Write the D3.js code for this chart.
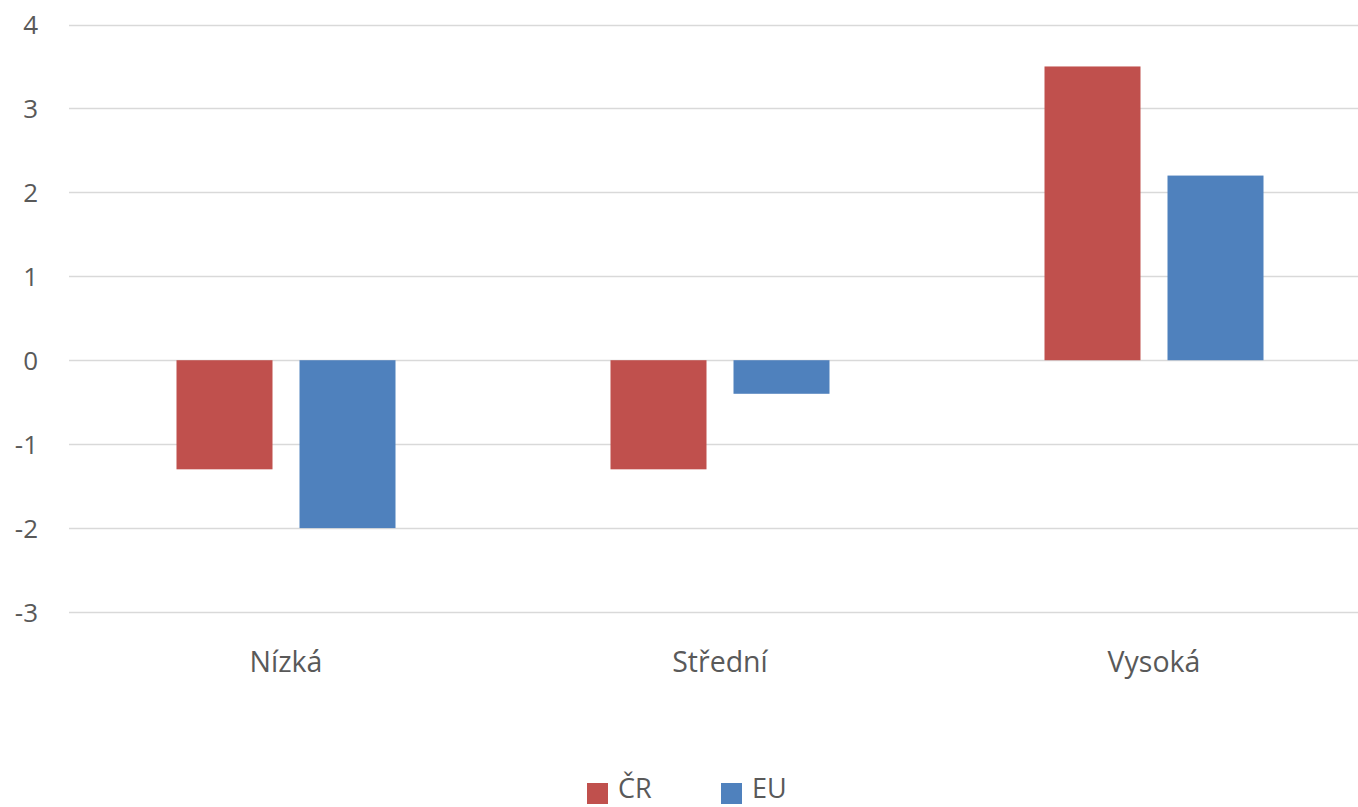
<!DOCTYPE html>
<html>
<head>
<meta charset="utf-8">
<script src="https://cdn.jsdelivr.net/npm/d3@7"></script>
<style>
  html, body { margin: 0; padding: 0; background: #fff; }
  svg { display: block; }
  text { font-family: "Open Sans", "Noto Sans", sans-serif; fill: #595959; }
</style>
</head>
<body>
<svg id="chart" width="1358" height="807"></svg>
<script>
const categories = ["Nízká", "Střední", "Vysoká"];
const seriesNames = ["ČR", "EU"];
const seriesCR = [-1.3, -1.3, 3.5];
const seriesEU = [-2.0, -0.4, 2.2];
const yTicks = [-3, -2, -1, 0, 1, 2, 3, 4];
const colors = ["#C0504D", "#4F81BD"];

const seriesValues = [seriesCR, seriesEU];
const svg = d3.select("#chart");

const x0 = d3.scaleBand().domain(categories).range([69, 1371]).paddingInner(0).paddingOuter(0);
const groupPad = 107.5;
const x1 = d3.scaleBand().domain(seriesNames)
  .range([groupPad, x0.bandwidth() - groupPad])
  .paddingInner(0.2195).paddingOuter(0);
const y = d3.scaleLinear().domain([-3, 4]).range([612, 24.5]);

// gridlines
svg.append("g")
  .selectAll("line")
  .data(yTicks)
  .join("line")
  .attr("x1", 69).attr("x2", 1371)
  .attr("y1", d => Math.round(y(d)) + 0.5)
  .attr("y2", d => Math.round(y(d)) + 0.5)
  .attr("stroke", "#d9d9d9")
  .attr("stroke-width", 1.5);

// y axis labels
const yAxis = d3.axisLeft(y).tickValues(yTicks).tickSize(0).tickPadding(0).tickFormat(d => String(d));
const yg = svg.append("g").attr("transform", "translate(38,0)").call(yAxis);
yg.select(".domain").remove();
yg.selectAll("text")
  .style("font-size", "26px")
  .attr("fill", "#595959")
  .attr("dy", "0.35em");

// bars
seriesNames.forEach((s, si) => {
  svg.append("g")
    .selectAll("rect")
    .data(categories.map((c, i) => ({ c, v: seriesValues[si][i] })))
    .join("rect")
    .attr("x", d => x0(d.c) + x1(s))
    .attr("width", x1.bandwidth())
    .attr("y", d => y(Math.max(0, d.v)))
    .attr("height", d => Math.abs(y(d.v) - y(0)))
    .attr("fill", colors[si]);
});

// category labels
const xAxis = d3.axisBottom(x0).tickSize(0).tickPadding(0);
const xg = svg.append("g").attr("transform", "translate(0,662)").call(xAxis);
xg.select(".domain").remove();
xg.selectAll("text")
  .style("font-size", "28.5px")
  .attr("fill", "#595959")
  .attr("dy", "0.35em");

// legend
const legendItems = [
  { name: seriesNames[0], color: colors[0], x: 587 },
  { name: seriesNames[1], color: colors[1], x: 721 }
];
const lg = svg.append("g");
legendItems.forEach(it => {
  lg.append("rect").attr("x", it.x).attr("y", 783).attr("width", 21).attr("height", 21).attr("fill", it.color);
  lg.append("text").attr("x", it.x + 31).attr("y", 789).attr("dy", "0.35em")
    .style("font-size", "27px").text(it.name);
});
</script>
</body>
</html>
